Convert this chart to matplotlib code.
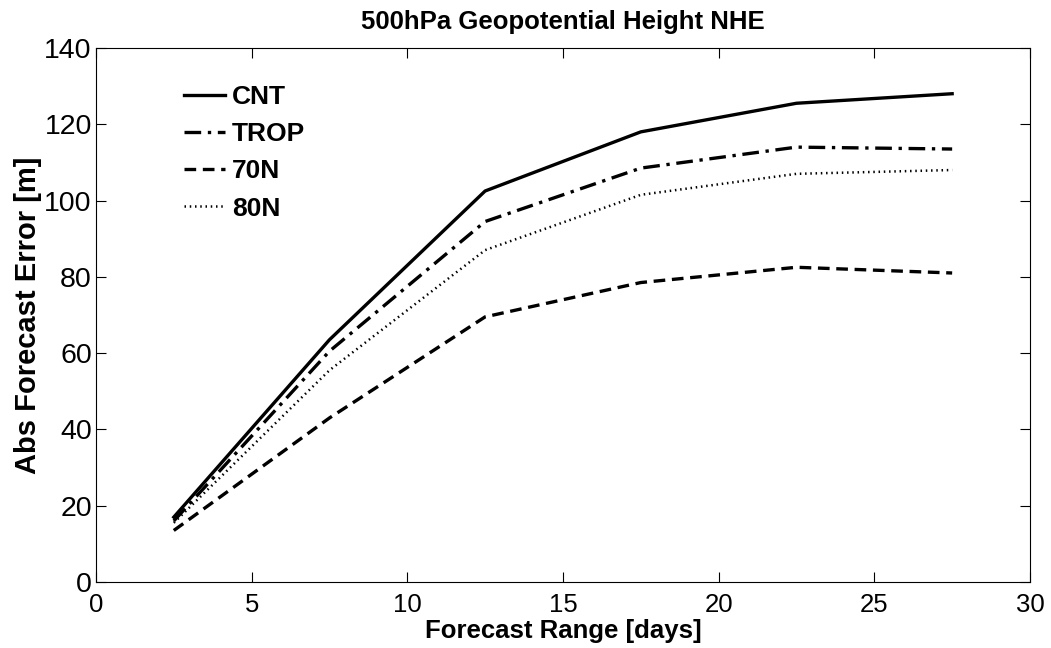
import matplotlib
matplotlib.use("Agg")
import matplotlib.pyplot as plt

# forecast error by range, one series per experiment
forecast_days = [2.5, 7.5, 12.5, 17.5, 22.5, 27.5]
cnt = [17.0, 63.5, 102.5, 118.0, 125.5, 128.0]
trop = [16.0, 60.5, 94.5, 108.5, 114.0, 113.5]
n70 = [13.5, 43.0, 69.5, 78.5, 82.5, 81.0]
n80 = [15.5, 55.5, 87.0, 101.5, 107.0, 108.0]

plt.rcParams["font.family"] = ["Liberation Sans", "DejaVu Sans"]

fig = plt.figure(figsize=(10.51, 6.48), dpi=100)
ax = fig.add_axes([0.0913, 0.1019, 0.8887, 0.8241])

ax.plot(forecast_days, cnt, "-", color="black", lw=2.4, label="CNT")
ax.plot(forecast_days, trop, color="black", lw=2.4, dashes=(5, 2, 1, 2), label="TROP")
ax.plot(forecast_days, n70, color="black", lw=2.4, dashes=(3.5, 2), label="70N")
ax.plot(forecast_days, n80, color="black", lw=1.8, dashes=(0.6, 1.5), label="80N")

ax.set_xlim(0, 30)
ax.set_ylim(0, 140)
ax.set_xticks(range(0, 31, 5))
ax.set_yticks(range(0, 141, 20))
ax.tick_params(direction="in", length=7, width=0.8, top=True, right=True)
ax.tick_params(axis="x", pad=8, labelsize=18.5)
ax.tick_params(axis="y", pad=3, labelsize=20.5)
for s in ax.spines.values():
    s.set_linewidth(0.8)

ax.set_xlabel("Forecast Range [days]", fontsize=18.5, fontweight="bold")
ax.xaxis.set_label_coords(0.5, -0.0693)
ax.set_ylabel("Abs Forecast Error [m]", fontsize=21, fontweight="bold", labelpad=2)
ax.set_title("500hPa Geopotential Height NHE", fontsize=18.5, fontweight="bold", pad=14)

leg = ax.legend(loc="upper left", bbox_to_anchor=(0.069, 0.975), frameon=False,
                handlelength=1.55, handletextpad=0.25, labelspacing=0.5,
                prop={"size": 19, "weight": "bold"})

fig.savefig("out.png", dpi=100)
